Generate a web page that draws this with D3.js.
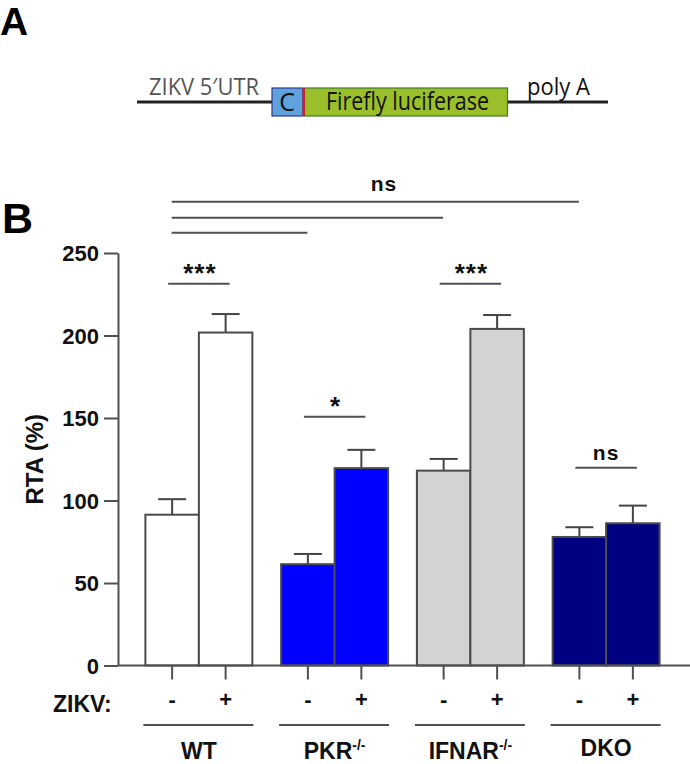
<!DOCTYPE html>
<html>
<head>
<meta charset="utf-8">
<script src="https://cdn.jsdelivr.net/npm/d3@7"></script>
<style>
  html, body { margin: 0; padding: 0; background: #fff; }
  svg { display: block; }
</style>
</head>
<body>
<svg id="chart" width="690" height="764"></svg>
<script>
// ---------- data ----------
const groups = ["WT", "PKR", "IFNAR", "DKO"];
const groupSup = ["", "-/-", "-/-", ""];
const conditions = ["-", "+"];
const meanMinus = [91.4, 61.4, 118.1, 77.9];
const meanPlus  = [201.8, 119.6, 204.0, 86.2];
const errMinus  = [9.4, 6.2, 7.1, 5.9];
const errPlus   = [11.2, 11.1, 8.4, 10.7];
const groupColors = ["#ffffff", "#0000ff", "#d3d3d3", "#000080"];
const yTicks = [0, 50, 100, 150, 200, 250];
// pairwise significance within group
const withinSig = ["***", "*", "***", "ns"];
const withinLevel = [231.4, 150.7, 231.4, 119.8];
// between-group comparisons (from WT- to ...)
const betweenTargets = ["DKO", "IFNAR", "PKR"];
const betweenLevels = [281, 271.4, 262.3];
const betweenLabel = "ns";

const svg = d3.select("#chart");
const FONT = "'Liberation Sans', Arial, Helvetica, sans-serif";

// ---------- Panel A ----------
svg.append("text").attr("x", 0).attr("y", 35)
  .attr("font-family", FONT).attr("font-weight", "bold").attr("font-size", 39).text("A");

const gA = svg.append("g");
gA.append("line").attr("x1", 137).attr("x2", 608).attr("y1", 102).attr("y2", 102)
  .attr("stroke", "#222").attr("stroke-width", 3);
gA.append("rect").attr("x", 272).attr("y", 88).attr("width", 31).attr("height", 28)
  .attr("fill", "#5fa2dd").attr("stroke", "#2b3990").attr("stroke-width", 1.2);
gA.append("rect").attr("x", 304.5).attr("y", 88).attr("width", 203).attr("height", 28)
  .attr("fill", "#9bbf2a").attr("stroke", "#3f7a2a").attr("stroke-width", 1.2);
gA.append("rect").attr("x", 302.5).attr("y", 88).attr("width", 2.5).attr("height", 28)
  .attr("fill", "#c1272d");
const NARROW = "'Liberation Sans Narrow', 'Open Sans', 'Noto Sans', sans-serif";
gA.append("text").attr("x", 149).attr("y", 95).attr("fill", "#555")
  .attr("font-family", NARROW).attr("font-size", 23)
  .attr("textLength", 110).attr("lengthAdjust", "spacingAndGlyphs").text("ZIKV 5\u2032UTR");
gA.append("text").attr("x", 287).attr("y", 111).attr("fill", "#111").attr("text-anchor", "middle")
  .attr("font-family", NARROW).attr("font-size", 25).text("C");
gA.append("text").attr("x", 326).attr("y", 110).attr("fill", "#111")
  .attr("font-family", NARROW).attr("font-size", 25)
  .attr("textLength", 163).attr("lengthAdjust", "spacingAndGlyphs").text("Firefly luciferase");
gA.append("text").attr("x", 527).attr("y", 95).attr("fill", "#111")
  .attr("font-family", NARROW).attr("font-size", 24)
  .attr("textLength", 63).attr("lengthAdjust", "spacingAndGlyphs").text("poly A");

// ---------- Panel B ----------
svg.append("text").attr("x", 2).attr("y", 233)
  .attr("font-family", FONT).attr("font-weight", "bold").attr("font-size", 43).text("B");

const y = d3.scaleLinear().domain([0, 250]).range([665.5, 253]);
const x0 = d3.scaleBand().domain(groups).range([131, 674]).paddingInner(0).paddingOuter(0);
const x1 = d3.scaleBand().domain(conditions).range([0, x0.bandwidth()]).paddingInner(0).paddingOuter(0.269);

const rows = [];
groups.forEach((g, i) => {
  rows.push({g, i, c: "-", v: meanMinus[i], e: errMinus[i]});
  rows.push({g, i, c: "+", v: meanPlus[i], e: errPlus[i]});
});
const cx = d => x0(d.g) + x1(d.c) + x1.bandwidth() / 2;

const AX = "#505050";

// error bars (behind bars)
const eb = svg.append("g").attr("stroke", "#444").attr("stroke-width", 2);
rows.forEach(d => {
  eb.append("line").attr("x1", cx(d)).attr("x2", cx(d)).attr("y1", y(d.v)).attr("y2", y(d.v + d.e));
  eb.append("line").attr("x1", cx(d) - 14).attr("x2", cx(d) + 14).attr("y1", y(d.v + d.e)).attr("y2", y(d.v + d.e));
});

// bars
svg.append("g").selectAll("rect").data(rows).join("rect")
  .attr("x", d => x0(d.g) + x1(d.c))
  .attr("y", d => y(d.v))
  .attr("width", x1.bandwidth())
  .attr("height", d => y(0) - y(d.v))
  .attr("fill", d => groupColors[d.i])
  .attr("stroke", "#4a4a4a").attr("stroke-width", 2);

// y axis
const yAxis = svg.append("g").attr("transform", "translate(118,0)")
  .call(d3.axisLeft(y).tickValues(yTicks).tickSize(14).tickPadding(5).tickSizeOuter(0));
yAxis.select(".domain").attr("stroke", AX).attr("stroke-width", 2);
yAxis.selectAll(".tick line").attr("stroke", AX).attr("stroke-width", 2);
yAxis.selectAll(".tick text").attr("font-family", FONT).attr("font-weight", "bold")
  .attr("font-size", 22).attr("fill", "#111").attr("dy", "0.35em");

svg.append("text")
  .attr("transform", `translate(43,${y(125)}) rotate(-90)`)
  .attr("text-anchor", "middle").attr("font-family", FONT).attr("font-weight", "bold")
  .attr("font-size", 24).attr("fill", "#111").text("RTA (%)");

// x axis line
svg.append("line").attr("x1", 118).attr("x2", 690).attr("y1", y(0)).attr("y2", y(0))
  .attr("stroke", AX).attr("stroke-width", 2);
// x ticks
svg.append("g").selectAll("line").data(rows).join("line")
  .attr("x1", cx).attr("x2", cx).attr("y1", y(0)).attr("y2", y(0) + 14)
  .attr("stroke", AX).attr("stroke-width", 2);
// +/- labels
svg.append("g").selectAll("text").data(rows).join("text")
  .attr("x", cx).attr("y", 707).attr("text-anchor", "middle")
  .attr("font-family", FONT).attr("font-weight", "bold").attr("font-size", 22).attr("fill", "#111")
  .text(d => d.c);
svg.append("text").attr("x", 53).attr("y", 712)
  .attr("font-family", FONT).attr("font-weight", "bold").attr("font-size", 23).attr("fill", "#111")
  .text("ZIKV:");

// group underline + labels
groups.forEach((g, i) => {
  const left = x0(g) + x1("-") - 2, right = x0(g) + x1("+") + x1.bandwidth() + 1;
  svg.append("line").attr("x1", left).attr("x2", right).attr("y1", 725).attr("y2", 725)
    .attr("stroke", AX).attr("stroke-width", 2);
  const t = svg.append("text").attr("x", x0(g) + x0.bandwidth() / 2).attr("y", g === "DKO" ? 756 : 759)
    .attr("text-anchor", "middle").attr("font-family", FONT).attr("font-weight", "bold")
    .attr("font-size", 23).attr("fill", "#111");
  t.append("tspan").text(g);
  if (groupSup[i]) t.append("tspan").attr("dy", -9).attr("font-size", 14).text(groupSup[i]);
});

// within-group significance
groups.forEach((g, i) => {
  const a = x0(g) + x1("-") + x1.bandwidth() / 2 - 4;
  const b = x0(g) + x1("+") + x1.bandwidth() / 2 + 4;
  const yy = y(withinLevel[i]);
  svg.append("line").attr("x1", a - 0).attr("x2", b).attr("y1", yy).attr("y2", yy)
    .attr("stroke", AX).attr("stroke-width", 2);
  const isNs = withinSig[i] === "ns";
  svg.append("text").attr("x", (a + b) / 2 + (isNs ? 0 : 1)).attr("y", yy - (isNs ? 8 : 2))
    .attr("text-anchor", "middle").attr("font-family", FONT).attr("font-weight", "bold")
    .attr("font-size", isNs ? 21 : 26).attr("letter-spacing", 1).attr("fill", "#111")
    .text(withinSig[i]);
});

// between-group comparison lines
const startX = x0("WT") + x1("-") + x1.bandwidth() / 2 - 0.5;
betweenTargets.forEach((g, k) => {
  const endX = x0(g) + x1("-") + x1.bandwidth() / 2 - 0.5;
  svg.append("line").attr("x1", startX).attr("x2", endX)
    .attr("y1", y(betweenLevels[k])).attr("y2", y(betweenLevels[k]))
    .attr("stroke", AX).attr("stroke-width", 2);
});
svg.append("text").attr("x", 384).attr("y", y(betweenLevels[0]) - 11)
  .attr("text-anchor", "middle").attr("font-family", FONT).attr("font-weight", "bold")
  .attr("font-size", 21).attr("letter-spacing", 1).attr("fill", "#111").text(betweenLabel);
</script>
</body>
</html>
